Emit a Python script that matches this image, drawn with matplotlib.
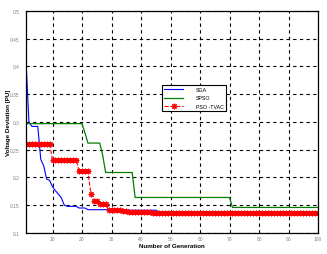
import matplotlib
matplotlib.use("Agg")
import matplotlib.pyplot as plt
import numpy as np

plt.rcParams['font.family'] = ['Liberation Sans', 'DejaVu Sans']

generations = list(range(1, 101))

sga = ([0.41, 0.30, 0.292, 0.292, 0.292, 0.233, 0.221, 0.197, 0.195, 0.183,
        0.176, 0.170, 0.163, 0.150, 0.148, 0.148, 0.148, 0.148, 0.145, 0.145,
        0.145] + [0.142] * 9 + [0.141] * 15 + [0.1385] * 55)

spso = ([0.297] * 20 + [0.28] + [0.262] * 5 + [0.24] + [0.209] * 10
        + [0.164] * 33 + [0.146] * 30)

pso_tvac = ([0.26] * 9 + [0.232] * 9 + [0.211] * 4 + [0.17, 0.158, 0.158,
            0.153, 0.153, 0.153, 0.141, 0.141, 0.141, 0.141, 0.141, 0.1395,
            0.139, 0.1385, 0.138, 0.138, 0.1375, 0.1375, 0.137, 0.137, 0.137,
            0.1365, 0.1365, 0.136, 0.136] + [0.1355] * 53)

xticks = [10, 20, 30, 40, 50, 60, 70, 80, 90, 100]
yticks = [0.1, 0.15, 0.2, 0.25, 0.3, 0.35, 0.4, 0.45, 0.5]
ytick_labels = ["0.1", "0.15", "0.2", "0.25", "0.3", "0.35", "0.4", "0.45", "0.5"]

fig = plt.figure(figsize=(3.27, 2.55), dpi=100)
ax = fig.add_axes([0.0795, 0.0824, 0.893, 0.8706])

ax.plot(generations, sga, color="blue", lw=0.8, label="SGA")
ax.plot(generations, spso, color="green", lw=0.9, label="SPSO")
ax.plot(generations, pso_tvac, color="red", lw=0.8, ls="--", marker=(8, 2, 0),
        markersize=4, markeredgewidth=0.8, label="PSO -TVAC")

ax.set_xlim(1, 100)
ax.set_ylim(0.1, 0.5)
ax.set_xticks(xticks)
ax.set_yticks(yticks)
ax.set_xticklabels([str(t) for t in xticks])
ax.set_yticklabels(ytick_labels)
ax.tick_params(direction="in", length=2, width=0.5, labelsize=3.5, labelcolor="#808080")
ax.tick_params(axis="x", pad=2.5)
ax.tick_params(axis="y", pad=4.5)
ax.grid(True, color="black", ls=(0, (3, 3)), lw=0.8)
for s in ax.spines.values():
    s.set_linewidth(0.9)

ax.set_xlabel("Number of Generation", fontsize=4.5, fontweight="bold")
ax.set_ylabel("Voltage Deviation [PU]", fontsize=4.5, fontweight="bold")
ax.xaxis.set_label_coords(0.5, -0.045)
ax.yaxis.set_label_coords(-0.052, 0.5)

leg = ax.legend(loc="upper left", bbox_to_anchor=(0.465, 0.667), fontsize=3.8,
                frameon=True, fancybox=False, edgecolor="black", framealpha=1,
                handlelength=3.6, borderpad=0.45, labelspacing=0.6, handletextpad=2.4,
                borderaxespad=0)
leg.get_frame().set_linewidth(0.8)

fig.savefig("out.png", dpi=100)
